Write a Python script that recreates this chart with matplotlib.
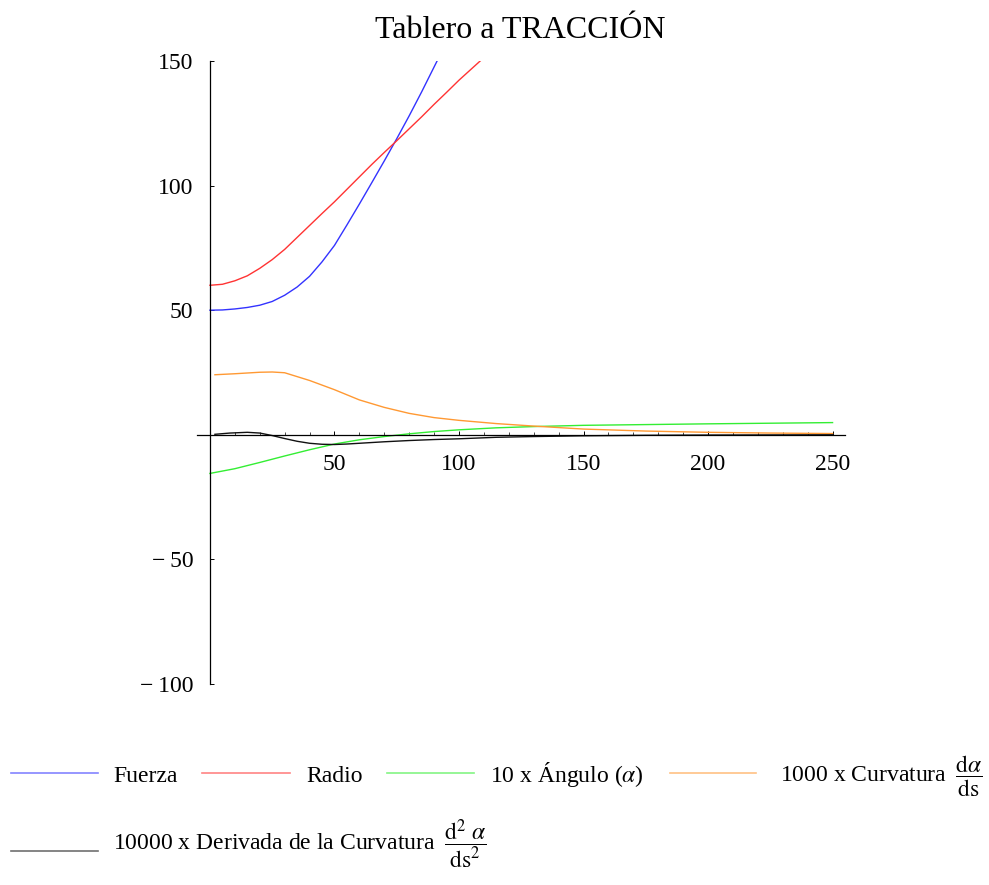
import matplotlib
matplotlib.use('Agg')
import matplotlib.pyplot as plt
from matplotlib.lines import Line2D
from matplotlib.ticker import MultipleLocator

plt.rcParams['font.family'] = ['Liberation Serif', 'DejaVu Serif']
plt.rcParams['mathtext.fontset'] = 'stix'

# valores
fuerza_x = [0, 5, 10, 15, 20, 25, 30, 35, 40, 45, 50, 55, 60, 65, 70, 75, 80, 85, 91.2]
fuerza_y = [50, 50.1, 50.5, 51.1, 52.0, 53.5, 56.0, 59.3, 63.6, 69.4, 76.0, 84.2, 92.6,
            101.2, 109.9, 118.8, 128.0, 137.6, 150]

radio_x = [0, 5, 10, 15, 20, 25, 30, 35, 40, 45, 50, 55, 60, 65, 70, 75, 80, 85, 90, 95, 100, 108.5]
radio_y = [60, 60.4, 61.8, 63.8, 66.8, 70.3, 74.4, 79.2, 84, 88.8, 93.5, 98.5, 103.5,
           108.5, 113.3, 118, 122.8, 127.6, 132.6, 137.4, 142.3, 150]

angulo_x = [0, 10, 20, 30, 40, 50, 60, 70, 80, 90, 100, 115, 130, 150, 175, 200, 225, 250]
angulo_y = [-15.5, -13.6, -11.1, -8.5, -6.0, -3.7, -2.0, -0.7, 0.4, 1.3, 2.0, 2.8, 3.3,
            3.8, 4.1, 4.4, 4.65, 4.9]

curv_x = [2, 10, 20, 25, 30, 40, 50, 60, 70, 80, 90, 100, 115, 130, 150, 175, 200, 225, 250]
curv_y = [24.1, 24.5, 25.1, 25.2, 24.9, 21.8, 18.1, 14.0, 11.0, 8.6, 6.9, 5.8, 4.5, 3.5,
          2.3, 1.5, 1.0, 0.7, 0.5]

deriv_x = [2, 8, 15, 20, 25, 30, 35, 40, 45, 50, 55, 60, 70, 80, 90, 100, 115, 130, 150,
           175, 200, 225, 250]
deriv_y = [0.2, 0.7, 1.0, 0.7, -0.3, -1.5, -2.6, -3.4, -3.8, -3.9, -3.7, -3.4, -2.8, -2.3,
           -1.9, -1.6, -1.0, -0.7, -0.4, -0.2, -0.1, -0.05, 0.0]

x_ticks = [50, 100, 150, 200, 250]
y_ticks = [-100, -50, 50, 100, 150]
y_labels = ['\u2212\u2009100', '\u2212\u200950', '50', '100', '150']

c_fuerza = '#3333ff'
c_radio = '#ff3333'
c_angulo = '#33ee33'
c_curv = '#ff9933'
c_deriv = '#111111'

fig = plt.figure(figsize=(9.89, 8.85), dpi=100)
ax = fig.add_axes([197 / 989, 1 - 684 / 885, 648 / 989, 623 / 885])

ax.plot(fuerza_x, fuerza_y, color=c_fuerza, lw=1.0)
ax.plot(radio_x, radio_y, color=c_radio, lw=1.0)
ax.plot(angulo_x, angulo_y, color=c_angulo, lw=1.0)
ax.plot(curv_x, curv_y, color=c_curv, lw=1.0)
ax.plot(deriv_x, deriv_y, color=c_deriv, lw=1.0)

ax.set_xlim(-5.2, 255)
ax.set_ylim(-100, 150)
ax.spines['left'].set_position(('data', 0))
ax.spines['bottom'].set_position(('data', 0))
ax.spines['top'].set_visible(False)
ax.spines['right'].set_visible(False)
for s in ['left', 'bottom']:
    ax.spines[s].set_linewidth(0.9)

ax.set_xticks(x_ticks)
ax.set_yticks(y_ticks)
ax.set_yticklabels(y_labels)
ax.xaxis.set_minor_locator(MultipleLocator(10))
ax.tick_params(axis='x', which='major', direction='in', length=3, width=0.7, pad=14, labelsize=17)
ax.tick_params(axis='x', which='minor', direction='in', length=2, width=0.5)
ax.tick_params(axis='y', which='major', direction='in', length=3, width=0.7, pad=12, labelsize=17)

fig.text(0.526, 1 - 37.5 / 885, 'Tablero a TRACCIÓN', ha='center', va='baseline', fontsize=23)

# leyenda manual
items_row1 = [
    (11, 98, 113, c_fuerza, 'Fuerza'),
    (202, 290, 306, c_radio, 'Radio'),
    (387, 474, 490, c_angulo, r'10 x Ángulo ($\alpha$)'),
    (670, 756, 780, c_curv, r'1000 x Curvatura $\;\dfrac{\mathrm{d}\alpha}{\mathrm{ds}}$'),
]
items_row2 = [
    (11, 98, 113, c_deriv, r'10000 x Derivada de la Curvatura $\;\dfrac{\mathrm{d}^2\ \alpha}{\mathrm{ds}^2}$'),
]
W, H = 989.0, 885.0
for row, (ly, by) in zip([items_row1, items_row2], [(773, 782), (851, 849)]):
    for x0, x1, tx, col, lab in row:
        fig.add_artist(Line2D([x0 / W, x1 / W], [1 - ly / H, 1 - ly / H],
                              color=col, lw=1.2, alpha=0.6, transform=fig.transFigure))
        fig.text(tx / W, 1 - by / H, lab, ha='left', va='baseline', fontsize=17)

plt.savefig('out.png', dpi=100)
plt.close()
